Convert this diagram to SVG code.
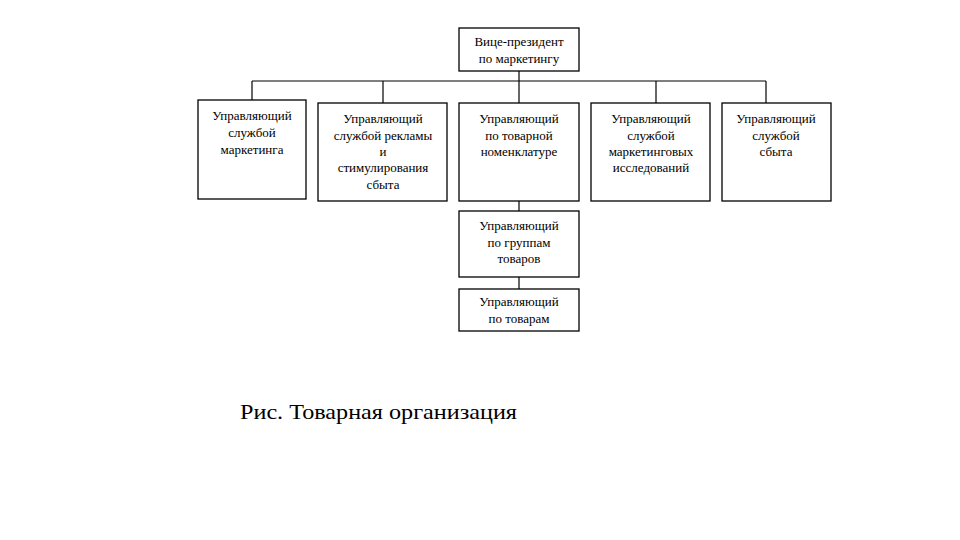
<svg xmlns="http://www.w3.org/2000/svg" width="960" height="540" viewBox="0 0 960 540">
<style>
rect{fill:#fff;stroke:#000;stroke-width:1.3}
text{font-family:"Liberation Serif",serif;font-size:13px;text-anchor:middle;fill:#000}
#connectors line{stroke:#000;stroke-width:1.2}
</style>
<rect x="0" y="0" width="960" height="540" style="stroke:none"/>
<g id="connectors">
<line x1="519" y1="71" x2="519" y2="103"/>
<line x1="252" y1="81" x2="766" y2="81"/>
<line x1="252" y1="81" x2="252" y2="100"/>
<line x1="383" y1="81" x2="383" y2="103"/>
<line x1="656" y1="81" x2="656" y2="103"/>
<line x1="766" y1="81" x2="766" y2="103"/>
<line x1="519" y1="201" x2="519" y2="211"/>
<line x1="519" y1="277" x2="519" y2="289"/>
</g>
<g id="vp"><rect x="459" y="28" width="120" height="43"/><text x="519" y="46">Вице-президент</text><text x="519" y="63">по маркетингу</text></g>
<g id="n1"><rect x="198" y="100" width="108" height="99"/><text x="252" y="120">Управляющий</text><text x="252" y="137">службой</text><text x="252" y="154">маркетинга</text></g>
<g id="n2"><rect x="318" y="103" width="129" height="98"/><text x="383" y="123">Управляющий</text><text x="383" y="140">службой рекламы</text><text x="383" y="156">и</text><text x="383" y="172">стимулирования</text><text x="383" y="189">сбыта</text></g>
<g id="n3"><rect x="459" y="103" width="120" height="98"/><text x="519" y="123">Управляющий</text><text x="519" y="140">по товарной</text><text x="519" y="156">номенклатуре</text></g>
<g id="n4"><rect x="591" y="103" width="119" height="98"/><text x="651" y="123">Управляющий</text><text x="651" y="140">службой</text><text x="651" y="156">маркетинговых</text><text x="651" y="172">исследований</text></g>
<g id="n5"><rect x="722" y="103" width="109" height="98"/><text x="776" y="123">Управляющий</text><text x="776" y="140">службой</text><text x="776" y="156">сбыта</text></g>
<g id="n6"><rect x="459" y="211" width="120" height="66"/><text x="519" y="230">Управляющий</text><text x="519" y="247">по группам</text><text x="519" y="263">товаров</text></g>
<g id="n7"><rect x="459" y="289" width="120" height="42"/><text x="519" y="306">Управляющий</text><text x="519" y="323">по товарам</text></g>
<text x="240" y="419" style="text-anchor:start;font-size:22px" textLength="277" lengthAdjust="spacingAndGlyphs">Рис. Товарная организация</text>
</svg>
